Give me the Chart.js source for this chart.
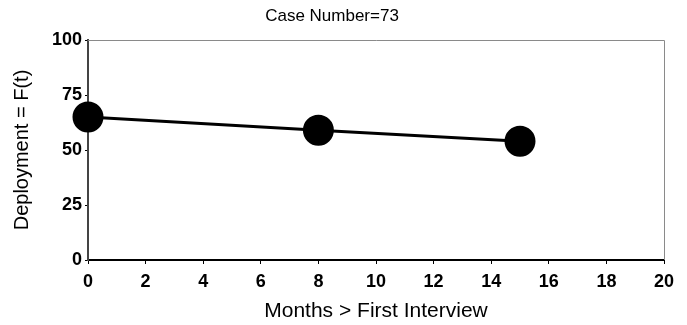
<!DOCTYPE html>
<html>
<head>
<meta charset="utf-8">
<script src="https://cdn.jsdelivr.net/npm/chart.js@4.4.0/dist/chart.umd.min.js"></script>
<style>
  html, body { margin: 0; padding: 0; background: #fff; }
  #wrap { width: 687px; height: 325px; }
</style>
</head>
<body>
<div id="wrap"><canvas id="chart" width="687" height="325"></canvas></div>
<script>
const months = [0, 8, 15];
const deployment = [65, 59, 54];
const xTicks = [0, 2, 4, 6, 8, 10, 12, 14, 16, 18, 20];
const yTicks = [0, 25, 50, 75, 100];

const FONT = "'Liberation Sans', Arial, sans-serif";

// thin grey frame on top and right like the original plot box
const framePlugin = {
  id: "frame",
  afterDraw(chart) {
    const { ctx, chartArea: a } = chart;
    ctx.save();
    ctx.strokeStyle = "#8a8a8a";
    ctx.lineWidth = 1;
    ctx.beginPath();
    ctx.moveTo(a.left, a.top + 0.5);
    ctx.lineTo(a.right + 0.5, a.top + 0.5);
    ctx.lineTo(a.right + 0.5, a.bottom);
    ctx.stroke();
    ctx.restore();
  }
};

new Chart(document.getElementById("chart"), {
  type: "scatter",
  data: {
    datasets: [{
      data: months.map((m, i) => ({ x: m, y: deployment[i] })),
      showLine: true,
      clip: false,
      borderColor: "#000",
      backgroundColor: "#000",
      borderWidth: 3,
      pointRadius: 14,
      pointHoverRadius: 14
    }]
  },
  plugins: [framePlugin],
  options: {
    responsive: false,
    animation: false,
    layout: { padding: { left: 0, right: 23, top: 0, bottom: 0 } },
    plugins: {
      legend: { display: false },
      tooltip: { enabled: false },
      title: {
        display: true,
        text: "Case Number=73",
        color: "#000",
        font: { family: FONT, size: 17, weight: "normal" },
        padding: { top: 6, bottom: 13.6 }
      }
    },
    scales: {
      x: {
        type: "linear",
        min: 0,
        max: 20,
        afterBuildTicks: s => { s.ticks = xTicks.map(v => ({ value: v })); },
        afterFit: s => { s.height = 65; },
        border: { color: "#000", width: 2 },
        grid: { display: true, drawOnChartArea: false, tickLength: 4, color: "#000" },
        ticks: {
          color: "#000",
          padding: 7,
          maxRotation: 0,
          font: { family: FONT, size: 18, weight: "bold" }
        },
        title: {
          display: true,
          text: "Months > First Interview",
          color: "#000",
          font: { family: FONT, size: 21, weight: "normal" },
          padding: { top: 2, bottom: 1 }
        }
      },
      y: {
        type: "linear",
        min: 0,
        max: 100,
        afterBuildTicks: s => { s.ticks = yTicks.map(v => ({ value: v })); },
        afterFit: s => { s.width = 88; },
        border: { color: "#444", width: 2 },
        grid: { display: true, drawOnChartArea: false, tickLength: 3, color: "#000" },
        ticks: {
          color: "#000",
          padding: 3,
          font: { family: FONT, size: 18, weight: "bold" }
        },
        title: {
          display: true,
          text: "Deployment = F(t)",
          color: "#000",
          font: { family: FONT, size: 20, weight: "normal" },
          padding: { top: 10, bottom: 4 }
        }
      }
    }
  }
});
</script>
</body>
</html>
